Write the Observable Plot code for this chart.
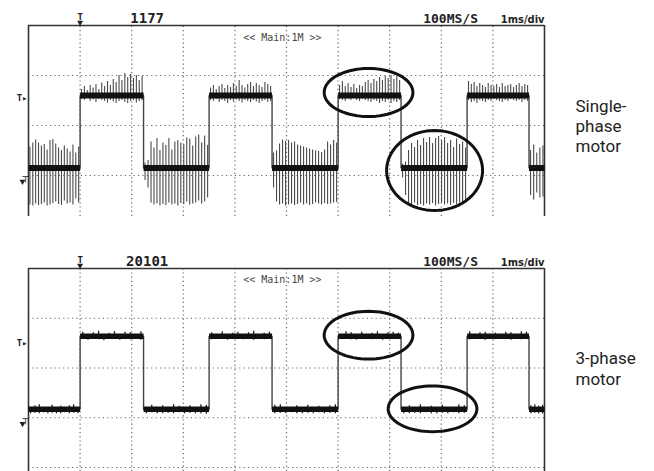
<!DOCTYPE html>
<html><head><meta charset="utf-8">
<script src="https://cdn.jsdelivr.net/npm/d3@7"></script>
<script src="https://cdn.jsdelivr.net/npm/@observablehq/plot@0.6"></script>
<style>
body{margin:0;background:#fff;}
#chart{width:654px;height:471px;position:relative;overflow:hidden;background:#fff;}
#chart svg{display:block;}
</style></head><body><div id="chart"></div>
<script>
// Time in ms (1 ms/div, 10 divisions); vertical in divisions above the ground marker
const risingEdges = [1.0, 3.5, 6.0, 8.5];
const fallingEdges = [2.23, 4.72, 7.22, 9.7];
const singlePhaseLevels = [0.15, 1.6];   // [low, high]
const threePhaseLevels = [0.17, 1.64];   // [low, high]
const triggerLevels = [1.54, 1.5];       // [single, 3-phase]
const headerCounts = ["1177", "20101"];
const sampleRate = "100MS/S";
const timeBase = "1ms/div";
const zoomLabel = "<< Main:1M >>";
const panelLabels = ["Single-\nphase\nmotor", "3-phase\nmotor"];

// Noise spikes per segment (segments: L0,H1,L1,H2,L2,H3,L3,H4,L4), in divisions
const singleSpikesUp = [
  [0.42,0.50,0.56,0.50,0.44,0.47,0.36,0.55,0.57,0.48,0.40,0.35,0.44,0.38,0.32,0.46,0.30,0.42],
  [0.12,0.18,0.10,0.20,0.15,0.22,0.12,0.25,0.18,0.28,0.20,0.32,0.26,0.40,0.30,0.44,0.36,0.42,0.34,0.40,0.30,0.38],
  [0.10,0.15,0.52,0.40,0.59,0.35,0.50,0.45,0.59,0.36,0.52,0.55,0.50,0.47,0.60,0.58,0.44,0.62,0.66,0.50,0.64,0.45],
  [0.15,0.20,0.12,0.18,0.22,0.14,0.20,0.16,0.24,0.18,0.30,0.20,0.15,0.22,0.26,0.18,0.24,0.20,0.16,0.26,0.22,0.18],
  [0.30,0.34,0.48,0.56,0.53,0.55,0.50,0.52,0.46,0.44,0.42,0.40,0.38,0.36,0.34,0.33,0.31,0.36,0.52,0.46,0.55,0.50],
  [0.20,0.28,0.18,0.24,0.16,0.22,0.14,0.20,0.18,0.26,0.30,0.24,0.32,0.28,0.36,0.30,0.38,0.34,0.40,0.32,0.38,0.30],
  [0.08,0.12,0.35,0.49,0.41,0.55,0.45,0.59,0.51,0.61,0.49,0.59,0.63,0.55,0.61,0.49,0.55,0.41,0.58,0.47,0.52,0.40],
  [0.28,0.22,0.26,0.18,0.24,0.20,0.16,0.24,0.20,0.18,0.22,0.16,0.24,0.18,0.20,0.22,0.16,0.20,0.24,0.18,0.22,0.20],
  [0.35,0.46,0.30,0.40,0.44]
];
const singleSpikesDown = [
  [0.74,0.76,0.72,0.75,0.73,0.70,0.76,0.74,0.71,0.68,0.73,0.75,0.66,0.72,0.70,0.74,0.62,0.70],
  [0.08,0.10,0.06,0.12,0.09,0.14,0.08,0.10,0.12,0.15,0.10,0.13,0.16,0.12,0.10,0.14,0.16,0.12,0.10,0.15,0.12,0.10],
  [0.25,0.40,0.70,0.74,0.72,0.76,0.73,0.75,0.70,0.74,0.72,0.76,0.71,0.73,0.68,0.74,0.72,0.70,0.66,0.72,0.68,0.60],
  [0.10,0.12,0.08,0.14,0.10,0.12,0.16,0.10,0.13,0.09,0.12,0.15,0.10,0.12,0.14,0.10,0.13,0.16,0.12,0.10,0.14,0.12],
  [0.40,0.68,0.74,0.72,0.76,0.74,0.72,0.75,0.73,0.70,0.74,0.72,0.75,0.73,0.70,0.72,0.74,0.71,0.73,0.72,0.70,0.69],
  [0.08,0.10,0.12,0.08,0.10,0.06,0.10,0.12,0.08,0.10,0.12,0.14,0.10,0.12,0.16,0.12,0.14,0.10,0.16,0.12,0.14,0.10],
  [0.20,0.55,0.72,0.74,0.70,0.75,0.73,0.76,0.72,0.74,0.71,0.76,0.73,0.70,0.74,0.72,0.75,0.71,0.73,0.70,0.72,0.66],
  [0.10,0.14,0.12,0.16,0.10,0.12,0.14,0.10,0.12,0.08,0.10,0.12,0.14,0.10,0.12,0.08,0.10,0.12,0.10,0.14,0.10,0.12],
  [0.55,0.64,0.50,0.60,0.58]
];
const threeTicksUp = [
  [0.00,0.07,0.09,0.00,0.00,0.08,0.00,0.06,0.00,0.07,0.09,0.00],
  [0.08,0.00,0.07,0.10,0.00,0.06,0.09,0.00,0.08,0.07,0.00,0.09],
  [0.00,0.08,0.00,0.07,0.00,0.09,0.06,0.00,0.07,0.00,0.09,0.08],
  [0.07,0.00,0.09,0.00,0.06,0.08,0.00,0.07,0.10,0.00,0.06,0.08],
  [0.08,0.09,0.00,0.00,0.07,0.00,0.08,0.00,0.06,0.00,0.07,0.09],
  [0.00,0.09,0.07,0.00,0.08,0.00,0.06,0.09,0.00,0.07,0.08,0.06],
  [0.00,0.07,0.00,0.09,0.00,0.06,0.00,0.08,0.00,0.00,0.09,0.07],
  [0.09,0.00,0.07,0.08,0.00,0.06,0.00,0.08,0.07,0.00,0.09,0.08],
  [0.07,0.09,0.06,0.08]
];
const threeTicksDown = [
  [0.09,0.08,0.09,0.07,0.09,0.08,0.09,0.09,0.07,0.09,0.08,0.09],
  [0.06,0.08,0.00,0.07,0.09,0.00,0.06,0.08,0.00,0.07,0.06,0.08],
  [0.09,0.07,0.09,0.09,0.08,0.09,0.07,0.09,0.08,0.09,0.09,0.10],
  [0.07,0.06,0.00,0.08,0.06,0.00,0.07,0.06,0.08,0.00,0.07,0.06],
  [0.09,0.08,0.09,0.07,0.09,0.09,0.08,0.09,0.07,0.09,0.08,0.09],
  [0.06,0.00,0.07,0.08,0.00,0.06,0.07,0.00,0.08,0.06,0.00,0.07],
  [0.09,0.09,0.08,0.09,0.07,0.09,0.09,0.08,0.09,0.07,0.09,0.08],
  [0.07,0.06,0.00,0.08,0.06,0.07,0.00,0.06,0.08,0.00,0.07,0.06],
  [0.09,0.08,0.09,0.09]
];
// Highlight ellipses: [centre ms, centre div, radius ms, radius div]
const singleEllipses = [[6.59, 1.66, 0.86, 0.48], [7.87, 0.10, 0.93, 0.80]];
const threeEllipses  = [[6.59, 1.66, 0.86, 0.48], [7.83, 0.18, 0.86, 0.46]];
const gridTimes = [1,2,3,4,5,6,7,8,9];

const bounds = d3.sort([0, ...risingEdges, ...fallingEdges, 10]);

function build(levels, up, down) {
  const step = [], band = [], spikes = [];
  for (let i = 0; i < bounds.length - 1; i++) {
    const a = bounds[i], b = bounds[i + 1], lvl = levels[i % 2];
    step.push({x: a, y: lvl}, {x: b, y: lvl});
    band.push({x: a, y: lvl, s: i}, {x: b, y: lvl, s: i});
    const n = up[i].length;
    up[i].forEach((u, j) => {
      spikes.push({x: a + (j + 0.5) * (b - a) / n, y1: lvl - down[i][j], y2: lvl + u});
    });
  }
  return {step, band, spikes};
}

function ellipsePts(list) {
  const pts = [];
  list.forEach(([cx, cy, rx, ry], k) => {
    d3.range(0, 72).forEach(t => {
      const a = t / 72 * 2 * Math.PI;
      pts.push({x: cx + rx * Math.cos(a), y: cy + ry * Math.sin(a), k});
    });
  });
  return pts;
}

const mono = "'DejaVu Sans Mono', monospace";

function panel(o) {
  const d = build(o.levels, o.up, o.down);
  return Plot.plot({
    width: 654, height: o.height,
    marginTop: o.mt, marginBottom: o.mb, marginLeft: 28, marginRight: 110,
    x: {domain: [0, 10], axis: null},
    y: {domain: [o.ymin, 3], axis: null},
    style: {background: "#fff", overflow: "visible"},
    marks: [
      Plot.ruleX(gridTimes, {y1: o.ymin, y2: 3, stroke: "#666", strokeWidth: 1.2, strokeDasharray: "1.2,3"}),
      Plot.ruleY(o.gridY, {x1: 0, x2: 10, stroke: "#666", strokeWidth: 1.2, strokeDasharray: "1.2,3.2"}),
      Plot.ruleX([0, 10], {y1: o.ymin, y2: 3, stroke: "#333", strokeWidth: 1.6}),
      Plot.ruleY([3], {x1: 0, x2: 10, stroke: "#333", strokeWidth: 1.6}),
      Plot.line(d.step, {x: "x", y: "y", stroke: "#444", strokeWidth: 1.4, strokeLinecap: "butt", strokeLinejoin: "miter"}),
      Plot.ruleX(d.spikes, {x: "x", y1: "y1", y2: "y2", stroke: o.spikeColor, strokeWidth: o.spikeWidth}),
      Plot.line(d.band, {x: "x", y: "y", z: "s", stroke: "#111", strokeWidth: o.bandWidth, strokeLinecap: "butt"}),
      Plot.line(ellipsePts(o.ellipses), {x: "x", y: "y", z: "k", curve: "linear-closed", stroke: "#111", strokeWidth: 3}),
      Plot.text([o.header], {x: 2.3, frameAnchor: "top", lineAnchor: "bottom", dy: -3, text: d => d, fontFamily: mono, fontWeight: "bold", fontSize: 14, fill: "#222"}),
      Plot.text([sampleRate], {x: 8.18, frameAnchor: "top", lineAnchor: "bottom", dy: -3, text: d => d, fontFamily: mono, fontWeight: "bold", fontSize: 13, fill: "#222"}),
      Plot.text([timeBase], {x: 10, frameAnchor: "top", lineAnchor: "bottom", dy: -3, textAnchor: "end", text: d => d, fontFamily: "'DejaVu Sans Condensed', sans-serif", fontWeight: "bold", fontSize: 11, fill: "#222"}),
      Plot.text([zoomLabel], {x: 4.92, frameAnchor: "top", dy: o.zoomDy, text: d => d, fontFamily: mono, fontSize: 10, fill: "#444"}),
      // trigger position marker
      Plot.text(["T"], {x: risingEdges[0], frameAnchor: "top", lineAnchor: "bottom", dy: -6, text: d => d, fontFamily: mono, fontWeight: "bold", fontSize: 9, fill: "#222"}),
      Plot.dot([risingEdges[0]], {x: d => d, frameAnchor: "top", dy: -3, symbol: "triangle", rotate: 180, r: 2.2, fill: "#222", stroke: null}),
      // trigger level marker
      Plot.text(["T▸"], {y: o.trig, frameAnchor: "left", textAnchor: "end", dx: -1, text: d => d, fontFamily: mono, fontWeight: "bold", fontSize: 9, fill: "#222"}),
      // ground marker
      Plot.text(["┬"], {y: 0, frameAnchor: "left", dx: -6, dy: 1, text: d => d, fontFamily: mono, fontSize: 10, fill: "#222"}),
      Plot.dot([0], {y: d => d, frameAnchor: "left", dx: -6, dy: 6, symbol: "triangle", rotate: 180, r: 2.2, fill: "#222", stroke: null}),
      // side label
      Plot.text([o.label], {y: 1.0, frameAnchor: "right", textAnchor: "start", dx: 31, lineHeight: 1.2, text: d => d, fontFamily: "Roboto, sans-serif", fontSize: 17, fill: "#222"})
    ]
  });
}

const topPanel = panel({height: 232, mt: 25, mb: 16, ymin: -0.82, gridY: [0, 1, 2],
  levels: singlePhaseLevels, up: singleSpikesUp, down: singleSpikesDown,
  spikeColor: "#4a4a4a", spikeWidth: 1.1, bandWidth: 6, ellipses: singleEllipses,
  header: headerCounts[0], trig: triggerLevels[0], label: panelLabels[0], zoomDy: 8});
const bottomPanel = panel({height: 239, mt: 36, mb: 0, ymin: -1.08, gridY: [-1, 0, 1, 2],
  levels: threePhaseLevels, up: threeTicksUp, down: threeTicksDown,
  spikeColor: "#111", spikeWidth: 1.2, bandWidth: 5.5, ellipses: threeEllipses,
  header: headerCounts[1], trig: triggerLevels[1], label: panelLabels[1], zoomDy: 7});

const chartEl = document.getElementById("chart");
chartEl.appendChild(topPanel);
chartEl.appendChild(bottomPanel);
</script></body></html>
